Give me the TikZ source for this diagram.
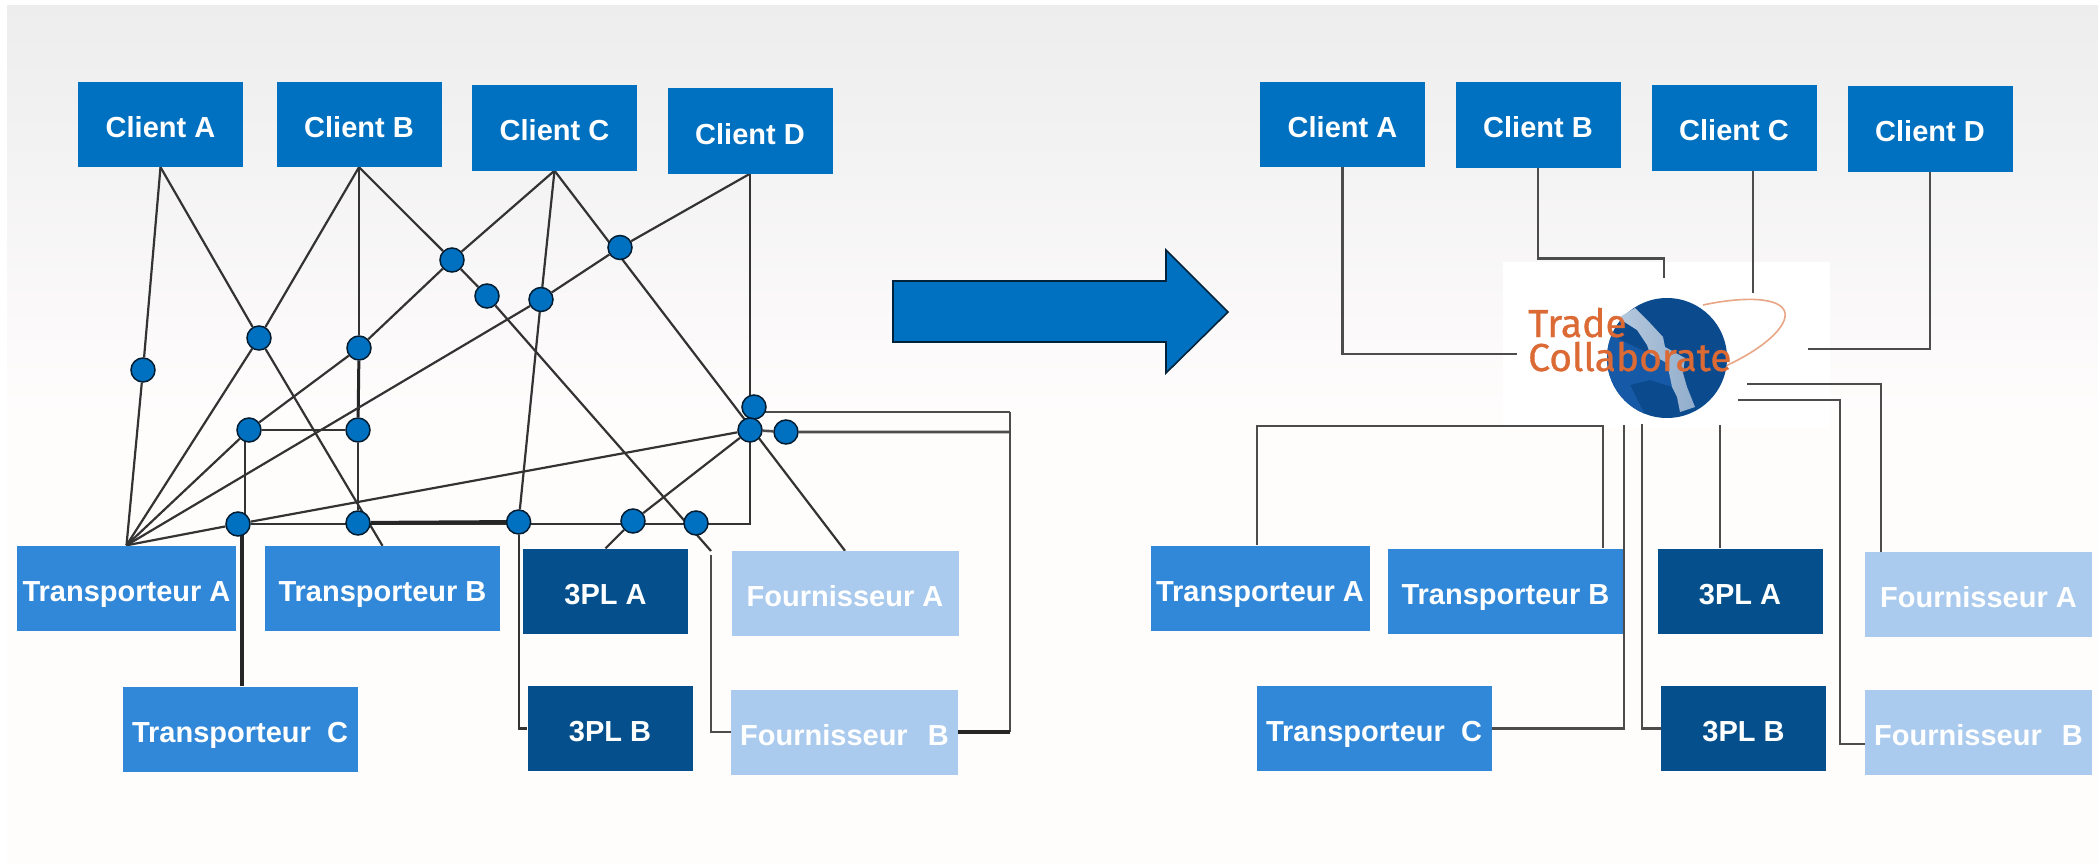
\documentclass[tikz,border=0pt]{standalone}
\usepackage{fontspec}
\setmainfont{Liberation Sans}
\newfontfamily\logofont[FakeBold=0.8]{Fira Sans}
\usepackage{xcolor}
\usepackage{tikz}
\usetikzlibrary{backgrounds}

\definecolor{clientblue}{HTML}{0070C0}
\definecolor{transblue}{HTML}{3288D8}
\definecolor{plblue}{HTML}{05508C}
\definecolor{fournblue}{HTML}{ABCBEE}
\definecolor{globeblue}{HTML}{0C4A8E}
\definecolor{globelight}{HTML}{1659A6}
\definecolor{tradeorange}{HTML}{DB6A35}

\begin{document}
\begin{tikzpicture}[x=1pt,y=-1pt,thin]
                \tikzset{box/.style={rectangle, inner sep=0pt, text=white, text height=26pt, text depth=0pt, minimum height=85pt, font=\fontsize{29}{32}\selectfont\bfseries}}
                \tikzset{client/.style={box, fill=clientblue, minimum width=165pt}}
                \tikzset{transporteur/.style={box, fill=transblue, minimum width=235pt}}
                \tikzset{pl/.style={box, fill=plblue, minimum width=165pt}}
                \tikzset{fournisseur/.style={box, fill=fournblue, minimum width=227pt}}
                \tikzset{dot/.style={circle, fill=clientblue, draw=black!75!clientblue, line width=1.5pt, inner sep=0pt, minimum size=24pt}}
                \tikzset{wire/.style={draw=black!80, line width=2.2pt}}
                \tikzset{fat/.style={draw=black!85, line width=4pt}}
                \tikzset{link/.style={draw=black!70, line width=2.6pt}}
                \useasboundingbox (0,0) rectangle (2098,864);
                % left network
                \node[client] (CA) at (160.5,124.5) {Client A};
                \node[client] (CB) at (359,124.5) {Client B};
                \node[client] (CC) at (554.5,128) {Client C};
                \node[client] (CD) at (750,131) {Client D};
                \node[transporteur, minimum width=219pt] (TA) at (126.5,588) {Transporteur A};
                \node[transporteur] (TB) at (382.5,588.5) {Transporteur B};
                \node[transporteur] (TC) at (240,729) {Transporteur\ \ C};
                \node[pl] (LA) at (605.5,591) {3PL A};
                \node[pl] (LB) at (610,728.5) {3PL B};
                \node[fournisseur] (FA) at (845,593.5) {Fournisseur A};
                \node[fournisseur] (FB) at (844.5,732) {Fournisseur\ \ \hspace{4pt}B};
                \foreach \n/\x/\y in {d1/143/370, d2/259/338, d3/359/348, d4/452/260, d5/487/296, d6/249/430, d7/358/430, d8/238/524, d9/358/523, d10/518.6/522, d11/541/299.5, d12/620/247.5, d13/754/407, d14/750/430, d15/786/432, d16/633/521, d17/696/523}
                    \node[dot] (\n) at (\x,\y) {};
                \coordinate (gap) at (711,551);
                \coordinate (bend) at (1010,412);
                % right network
                \node[client] (rCA) at (1342.5,124.5) {Client A};
                \node[client] (rCB) at (1538,125) {Client B};
                \node[client] (rCC) at (1734,128) {Client C};
                \node[client] (rCD) at (1930,129) {Client D};
                \node[transporteur, minimum width=219pt] (rTA) at (1260,588) {Transporteur A};
                \node[transporteur] (rTB) at (1505.5,591) {Transporteur B};
                \node[transporteur] (rTC) at (1374,728.5) {Transporteur\ \ C};
                \node[pl] (rLA) at (1740,591) {3PL A};
                \node[pl] (rLB) at (1743.5,728.5) {3PL B};
                \node[fournisseur] (rFA) at (1978.5,594.5) {Fournisseur A};
                \node[fournisseur] (rFB) at (1978.5,732) {Fournisseur\ \ \hspace{4pt}B};
                \foreach \n/\x/\y in {hA/1517/354, hB/1664/278, hC/1753/293, hD/1808/349, hE/1603/426, hF/1624/425, hG/1642/424, hH/1720/425, hI/1747/384, hJ/1738/400}
                    \coordinate (\n) at (\x,\y);
                % logo
                \draw[line width=1.6pt, draw=tradeorange!60] (1690,380) .. controls (1745,362) and (1782,335) .. (1785,317) .. controls (1788,298) and (1750,295) .. (1703,305);
                \node[circle, fill=globeblue, inner sep=0pt, minimum size=120pt] (globe) at (1667,358) {};
                \begin{scope}
                    \clip (1667,358) circle (60);
                    \fill[globelight] (1600,330) -- (1650,354) -- (1667,363) -- (1672,387) -- (1650,380) -- (1630,385) -- (1650,425) -- (1600,425) -- cycle;
                \end{scope}
                \shade[left color=white!70!globeblue, right color=white!55!globeblue] (1618,318) -- (1637,330) -- (1647,345) -- (1650,354) -- (1667,363) -- (1672,387) -- (1677,397) -- (1680,412) -- (1695,407) -- (1687,387) -- (1683,373) -- (1685,358) -- (1665,347) -- (1663,337) -- (1650,323) -- (1635,308) -- cycle;
                \node[inner sep=0pt, anchor=base west, align=left, text=tradeorange, font=\fontsize{39}{34}\selectfont\logofont] (logo) at (1528,371) {Trade\\Collaborate};
                % big arrow
                \draw[line width=1.6pt, draw=black!70!clientblue, fill=clientblue, line join=miter] (893,281) -- (1166,281) -- (1166,250) -- (1228,312) -- (1166,373) -- (1166,342) -- (893,342) -- cycle;
                \begin{scope}[on background layer]
                    \shade[top color=black!7, bottom color=white!99!red] (7,6) rectangle (2098,420);
                    \fill[white!99!red] (7,420) rectangle (2098,864);
                    \fill[white] (1503,262) rectangle (1830,428);
                    \draw[wire] (CA.south) -- (d1) -- (TA.north);
                    \draw[wire] (CA.south) -- (d2) -- (TB.north);
                    \draw[wire] (CB.south) -- (d2) -- (TA.north);
                    \draw[wire] (CB.south) -- (d3);
                    \draw[fat, line width=3pt] (d3) -- (d7);
                    \draw[wire] (d7) -- (d9);
                    \draw[wire] (CB.south) -- (d4) -- (d5) -- (gap);
                    \draw[link] (gap) ++(0,4) |- (FB.west);
                    \draw[wire] (CC.south) -- (d4) -- (d3) -- (d6) -- (TA.north);
                    \draw[wire] (CD.south) -- (d12) -- (d11) -- (TA.north);
                    \draw[wire] (CC.south) -- (d11) -- (d10);
                    \draw[wire] (d10) |- (LB.west);
                    \draw[wire] (CC.south) -- (FA.north);
                    \draw[wire] (TA.north) -- (d8) -- (d14);
                    \draw[wire] (CD.south) |- (d8);
                    \draw[fat] (d9) -- (d10);
                    \draw[wire] (d6) -- (d7);
                    \draw[wire] (d6.center) ++(-4,0) -- ++(0,94);
                    \draw[fat] ([xshift=2pt]TC.north) -- ++(0,-165);
                    \draw[wire] (LA.north) -- (d16) -- (d14);
                    \draw[link] (d13.center) ++(0,5) -- (bend);
                    \draw[link] (d14) -- (d15) -- (bend |- d15);
                    \draw[link] (bend) -- (bend |- FB.east);
                    \draw[fat] (bend |- FB.east) -- (FB.east);
                    % links to the hub
                    \draw[link] (rCA.south) |- (hA);
                    \draw[link] (rCB.south) -- ++(0,91) -| (hB);
                    \draw[link] (hC |- rCC.south) -- (hC);
                    \draw[link] (rCD.south) |- (hD);
                    \draw[link] ([xshift=-3pt]rTA.north) |- (hE) -- (hE |- rTB.north);
                    \draw[link] (rTC.east) -| (hF);
                    \draw[link] (rLB.west) -| (hG);
                    \draw[link] (hH |- rLA.north) -- (hH);
                    \draw[link] (1881,552.5) |- (hI);
                    \draw[link] ([yshift=-12pt]rFB.west) -| (1840,400) -- (hJ);
                \end{scope}
            \end{tikzpicture}
\end{document}
